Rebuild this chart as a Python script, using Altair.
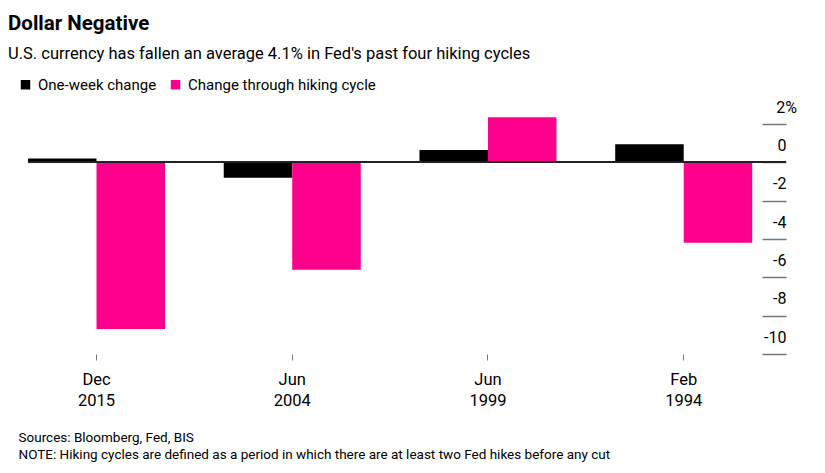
import altair as alt
import pandas as pd

categories = ["Dec 2015", "Jun 2004", "Jun 1999", "Feb 1994"]
series = ["One-week change", "Change through hiking cycle"]
one_week = [0.2, -0.8, 0.65, 0.95]
hiking_cycle = [-8.7, -5.6, 2.35, -4.2]
y_ticks = [-10, -8, -6, -4, -2, 0, 2]
colors = ["#000000", "#ff008c"]
source_lines = [
    "Sources: Bloomberg, Fed, BIS",
    "NOTE: Hiking cycles are defined as a period in which there are at least two Fed hikes before any cut",
]

rows = []
for c, a, b in zip(categories, one_week, hiking_cycle):
    rows.append({"period": c, "series": series[0], "value": a})
    rows.append({"period": c, "series": series[1], "value": b})
df = pd.DataFrame(rows)

FONT = "Roboto, Liberation Sans, Arial, sans-serif"

bars = alt.Chart(df).mark_bar().encode(
    x=alt.X(
        "period:N",
        sort=categories,
        scale=alt.Scale(paddingInner=0.3, paddingOuter=0.025, align=0),
        axis=alt.Axis(
            title=source_lines,
            titleFont=FONT,
            titleFontSize=13.5,
            titleFontWeight="normal",
            titleColor="#000000",
            titleLineHeight=17,
            titleAnchor="start",
            titleAlign="left",
            titleBaseline="top",
            titleX=-10,
            titleY=76,
            domain=False,
            ticks=True,
            tickSize=6,
            tickColor="#777777",
            labelAngle=0,
            labelExpr="split(datum.label, ' ')",
            labelFont=FONT,
            labelFontSize=16.5,
            labelLineHeight=21,
            labelPadding=11,
            labelBaseline="top",
            labelColor="#000000",
        ),
    ),
    xOffset=alt.XOffset("series:N", sort=series, scale=alt.Scale(paddingInner=0, paddingOuter=0)),
    y=alt.Y(
        "value:Q",
        scale=alt.Scale(domain=[-10, 2], nice=False),
        axis=alt.Axis(
            orient="right",
            values=y_ticks,
            tickCount=len(y_ticks),
            title=None,
            grid=False,
            domain=False,
            tickSize=24,
            tickColor="#777777",
            tickWidth=1.5,
            labelOverlap=False,
            labelExpr="datum.value == 2 ? '2%' : '' + datum.value",
            labelAlign={"condition": {"test": "datum.value == 2", "value": "center"}, "value": "right"},
            labelBaseline="alphabetic",
            labelOffset=-12,
            labelPadding=0,
            labelFont=FONT,
            labelFontSize=16,
            labelColor="#000000",
        ),
    ),
    color=alt.Color(
        "series:N",
        sort=series,
        scale=alt.Scale(domain=series, range=colors),
        legend=alt.Legend(
            orient="none",
            legendX=-10,
            legendY=-47,
            direction="horizontal",
            title=None,
            symbolType="square",
            symbolSize=90,
            symbolStrokeWidth=0,
            labelFont=FONT,
            labelFontSize=15,
            labelColor="#000000",
            labelLimit=400,
            columnPadding=11,
            labelOffset=5,
        ),
    ),
)

zero = alt.Chart(df).mark_rule(color="#222222", strokeWidth=1.5).encode(
    y=alt.datum(0),
    x=alt.value(0),
    x2=alt.value(758),
)

chart = alt.layer(bars, zero).properties(
    width=734,
    height=230,
    padding={"left": 0, "top": 6, "right": 10, "bottom": 5},
    title=alt.Title(
        "Dollar Negative",
        subtitle="U.S. currency has fallen an average 4.1% in Fed's past four hiking cycles",
        anchor="start",
        dx=-10,
        offset=15,
        font=FONT,
        fontSize=20.5,
        fontWeight="bold",
        color="#000000",
        subtitleFont=FONT,
        subtitleFontSize=16.5,
        subtitleColor="#000000",
        subtitlePadding=11,
    ),
).configure_view(stroke=None)

chart.save("out.html", embed_options={"renderer": "svg", "actions": False})
